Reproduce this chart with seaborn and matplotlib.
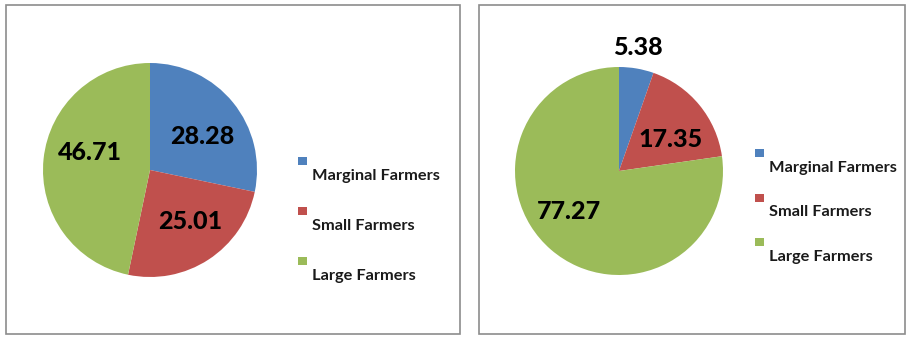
import matplotlib
matplotlib.use("Agg")
import matplotlib.pyplot as plt
import seaborn as sns
import numpy as np
from matplotlib.patches import Rectangle

# ---- data ----
categories = ["Marginal Farmers", "Small Farmers", "Large Farmers"]
left_values = [28.28, 25.01, 46.71]
right_values = [5.38, 17.35, 77.27]
left_labels = ["28.28", "25.01", "46.71"]
right_labels = ["5.38", "17.35", "77.27"]

sns.set_theme(style="white")
plt.rcParams["font.family"] = ["Lato", "DejaVu Sans"]
colors = ["#4F81BD", "#C0504D", "#9BBB59"]

W, H = 912, 342
fig = plt.figure(figsize=(W / 100, H / 100), dpi=100)
fig.patch.set_facecolor("white")


def fx(x):
    return x / W


def fy(y):
    return 1 - y / H


panels = [
    dict(box=(6, 5, 460, 334), center=(150, 170), r=107,
         values=left_values, labels=left_labels,
         dist=[0.58, 0.61, 0.58], shift=[-6.7, 4.4, -10.0],
         leg_x=298, sq_y=[161, 211, 261], txt_y=[176, 226, 276]),
    dict(box=(479, 5, 905, 334), center=(619, 171), r=104,
         values=right_values, labels=right_labels,
         dist=[1.2, 0.58, 0.62], shift=[1.0, -7.4, -10.3],
         leg_x=755, sq_y=[153, 198, 242], txt_y=[168, 212, 257]),
]

for p in panels:
    x0, y0, x1, y1 = p["box"]
    fig.add_artist(Rectangle((fx(x0), fy(y1)), fx(x1 - x0), (y1 - y0) / H,
                             transform=fig.transFigure, fill=False,
                             edgecolor="#8c8c8c", linewidth=1.2))
    cx, cy = p["center"]
    r = p["r"]
    ax = fig.add_axes([fx(cx - r), fy(cy + r), 2 * r / W, 2 * r / H])
    wedges, _ = ax.pie(p["values"], colors=colors, startangle=90,
                       counterclock=False, radius=1,
                       wedgeprops=dict(linewidth=0))
    ax.set_xlim(-1, 1)
    ax.set_ylim(-1, 1)
    ax.set_axis_off()
    for w, lab, d, s in zip(wedges, p["labels"], p["dist"], p["shift"]):
        ang = np.deg2rad((w.theta1 + w.theta2) / 2 + s)
        ax.text(d * np.cos(ang), d * np.sin(ang), lab, ha="center",
                va="center", fontsize=18, fontweight="black", color="black")
    for cat, col, sy, ty in zip(categories, colors, p["sq_y"], p["txt_y"]):
        fig.add_artist(Rectangle((fx(p["leg_x"]), fy(sy + 4)), 9 / W, 8 / H,
                                 transform=fig.transFigure, facecolor=col,
                                 edgecolor="none"))
        fig.text(fx(p["leg_x"] + 14), fy(ty), cat, ha="left", va="center",
                 fontsize=11.8, fontweight="bold", color="#1a1a1a")

fig.savefig("out.png", dpi=100, facecolor="white")
